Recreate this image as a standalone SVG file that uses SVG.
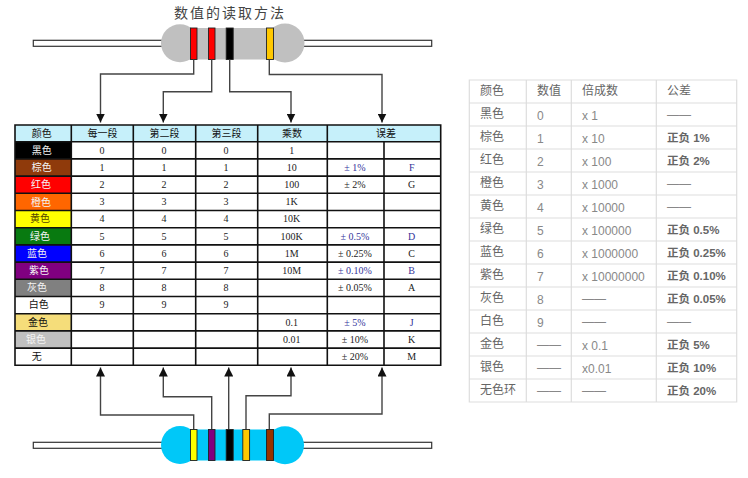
<svg xmlns="http://www.w3.org/2000/svg" width="748" height="478" viewBox="0 0 748 478">
<style>
text{font-family:"Noto Sans CJK SC","Liberation Sans",sans-serif}
.title{font-size:14px;letter-spacing:2px;fill:#444;text-anchor:middle}
.lead{fill:#fff;stroke:#333;stroke-width:1.2}
.band{stroke:#222;stroke-width:.9}
.grid{fill:none;stroke:#111;stroke-width:1.6}
.c{font-size:10px;text-anchor:middle;fill:#111}
.w{fill:#f4f4f4}
.n{font-family:"Liberation Serif",serif;font-size:10px;text-anchor:middle;fill:#222}
.b{fill:#33339a}
.conn{fill:none;stroke:#444;stroke-width:1.4}
.rg{fill:none;stroke:#ddd;stroke-width:1.2}
.r{font-size:12px;fill:#666}
.v{font-family:"Liberation Sans",sans-serif;font-size:12px;fill:#888}
.t{font-family:"Liberation Sans","Noto Sans CJK SC",sans-serif;font-size:11.5px;font-weight:700;fill:#666}
.d{font-family:"Liberation Sans",sans-serif;font-size:12px;fill:#888}
</style>
<defs>
<marker id="ah" markerUnits="userSpaceOnUse" markerWidth="10" markerHeight="9" refX="9" refY="4.5" orient="auto"><path d="M0 0L9 4.5L0 9Z" fill="#111"/></marker>
</defs>
<rect width="748" height="478" fill="#fff"/>
<text class="title" x="230" y="18">数值的读取方法</text>

<g id="resistor-top">
<rect class="lead" x="33.3" y="40.3" width="398.4" height="6"/>
<circle cx="180" cy="43.3" r="19" fill="#c0c0c0"/>
<circle cx="285" cy="43" r="19.5" fill="#c0c0c0"/>
<rect x="180" y="28" width="105" height="31.5" fill="#c0c0c0"/>
<rect class="band" x="190.5" y="28" width="6.5" height="31.5" fill="#f00"/>
<rect class="band" x="208.5" y="28" width="6.5" height="31.5" fill="#f00"/>
<rect class="band" x="226.2" y="28" width="7" height="31.5" fill="#000"/>
<rect class="band" x="266.5" y="28" width="7" height="31.5" fill="#ffc800"/>
</g>

<g id="connectors">
<path class="conn" marker-end="url(#ah)" d="M193.7 59.5V74H100.5V122.5"/>
<path class="conn" marker-end="url(#ah)" d="M211.7 59.5V91.7H163.3V122.5"/>
<path class="conn" marker-end="url(#ah)" d="M229.7 59.5V91.7H291V122.5"/>
<path class="conn" marker-end="url(#ah)" d="M269.3 59.5V74.5H382V122.5"/>
<path class="conn" marker-end="url(#ah)" d="M193.7 429.5V415H100.5V367.5"/>
<path class="conn" marker-end="url(#ah)" d="M211.7 429.5V396.7H163.3V367.5"/>
<path class="conn" marker-end="url(#ah)" d="M228.7 429.5V367.5"/>
<path class="conn" marker-end="url(#ah)" d="M246 429.5V395.7H291V367.5"/>
<path class="conn" marker-end="url(#ah)" d="M269.3 429.5V414H382V367.5"/>
</g>

<g id="resistor-bottom">
<rect class="lead" x="33.3" y="442.3" width="398.4" height="6"/>
<circle cx="180" cy="445" r="19" fill="#00c8f8"/>
<circle cx="285" cy="445.3" r="19" fill="#00c8f8"/>
<rect x="180" y="429.5" width="105" height="31" fill="#00c8f8"/>
<rect class="band" x="190.5" y="429.5" width="6.5" height="31" fill="#ff0"/>
<rect class="band" x="208.5" y="429.5" width="6.5" height="31" fill="#800080"/>
<rect class="band" x="226.2" y="429.5" width="7" height="31" fill="#000"/>
<rect class="band" x="242.8" y="429.5" width="6.8" height="31" fill="#ffc800"/>
<rect class="band" x="266.5" y="429.5" width="7" height="31" fill="#993300"/>
</g>

<g id="code-table">
<rect x="15" y="125" width="425.7" height="240.3" fill="#fff"/>
<rect x="15" y="125" width="425.7" height="16.7" fill="#c6f0fa"/>
<rect x="15" y="141.7" width="56.3" height="17.2" fill="#000"/>
<rect x="15" y="158.9" width="56.3" height="17.2" fill="#8f3a0b"/>
<rect x="15" y="176.1" width="56.3" height="17.2" fill="#f00"/>
<rect x="15" y="193.3" width="56.3" height="17.2" fill="#f60"/>
<rect x="15" y="210.5" width="56.3" height="17.2" fill="#ff0"/>
<rect x="15" y="227.7" width="56.3" height="17.2" fill="#087a10"/>
<rect x="15" y="244.9" width="56.3" height="17.2" fill="#00f"/>
<rect x="15" y="262.1" width="56.3" height="17.2" fill="#800080"/>
<rect x="15" y="279.3" width="56.3" height="17.2" fill="#808080"/>
<rect x="15" y="313.7" width="56.3" height="17.2" fill="#f5dd7a"/>
<rect x="15" y="330.9" width="56.3" height="17.2" fill="#c0c0c0"/>
<path class="grid" d="M15 125H440.7V365.3H15ZM15 141.7H440.7M15 158.9H440.7M15 176.1H440.7M15 193.3H440.7M15 210.5H440.7M15 227.7H440.7M15 244.9H440.7M15 262.1H440.7M15 279.3H440.7M15 296.5H440.7M15 313.7H440.7M15 330.9H440.7M15 348.1H440.7M71.3 125V365.3M133.3 125V365.3M195.7 125V365.3M257.7 125V365.3M327.3 125V365.3M384 141.7V365.3"/>
<text class="c" x="41.7" y="137">颜色</text><text class="c" x="102.5" y="137">每一段</text><text class="c" x="164.5" y="137">第二段</text><text class="c" x="226.5" y="137">第三段</text><text class="c" x="292" y="137">乘数</text><text class="c" x="386" y="137">误差</text>
<text class="c w" x="41.7" y="154">黑色</text><text class="c w" x="41.7" y="171">棕色</text><text class="c w" x="41" y="188">红色</text><text class="c w" x="41" y="206">橙色</text><text class="c" x="40" y="222" style="fill:#554400">黄色</text><text class="c w" x="40" y="240">绿色</text><text class="c w" x="37" y="257">蓝色</text><text class="c w" x="39" y="274">紫色</text><text class="c w" x="37" y="291">灰色</text><text class="c" x="38.7" y="308">白色</text><text class="c" x="38" y="326">金色</text><text class="c w" x="36" y="343">银色</text><text class="c" x="36.7" y="360">无</text>
<text class="n" x="102" y="153.5">0</text><text class="n" x="164" y="153.5">0</text><text class="n" x="226" y="153.5">0</text><text class="n" x="291.7" y="153.5">1</text>
<text class="n" x="102" y="170.7">1</text><text class="n" x="164" y="170.7">1</text><text class="n" x="226" y="170.7">1</text><text class="n" x="291.7" y="170.7">10</text><text class="n b" x="355" y="170.7">± 1%</text><text class="n b" x="411.7" y="170.7">F</text>
<text class="n" x="102" y="187.9">2</text><text class="n" x="164" y="187.9">2</text><text class="n" x="226" y="187.9">2</text><text class="n" x="291.7" y="187.9">100</text><text class="n" x="355" y="187.9">± 2%</text><text class="n" x="411.7" y="187.9">G</text>
<text class="n" x="102" y="205.1">3</text><text class="n" x="164" y="205.1">3</text><text class="n" x="226" y="205.1">3</text><text class="n" x="291.7" y="205.1">1K</text>
<text class="n" x="102" y="222.3">4</text><text class="n" x="164" y="222.3">4</text><text class="n" x="226" y="222.3">4</text><text class="n" x="291.7" y="222.3">10K</text>
<text class="n" x="102" y="239.5">5</text><text class="n" x="164" y="239.5">5</text><text class="n" x="226" y="239.5">5</text><text class="n" x="291.7" y="239.5">100K</text><text class="n b" x="355" y="239.5">± 0.5%</text><text class="n b" x="411.7" y="239.5">D</text>
<text class="n" x="102" y="256.7">6</text><text class="n" x="164" y="256.7">6</text><text class="n" x="226" y="256.7">6</text><text class="n" x="291.7" y="256.7">1M</text><text class="n" x="355" y="256.7">± 0.25%</text><text class="n" x="411.7" y="256.7">C</text>
<text class="n" x="102" y="273.9">7</text><text class="n" x="164" y="273.9">7</text><text class="n" x="226" y="273.9">7</text><text class="n" x="291.7" y="273.9">10M</text><text class="n b" x="355" y="273.9">± 0.10%</text><text class="n b" x="411.7" y="273.9">B</text>
<text class="n" x="102" y="291.1">8</text><text class="n" x="164" y="291.1">8</text><text class="n" x="226" y="291.1">8</text><text class="n" x="355" y="291.1">± 0.05%</text><text class="n" x="411.7" y="291.1">A</text>
<text class="n" x="102" y="308.3">9</text><text class="n" x="164" y="308.3">9</text><text class="n" x="226" y="308.3">9</text>
<text class="n" x="291.7" y="325.5">0.1</text><text class="n b" x="355" y="325.5">± 5%</text><text class="n b" x="411.7" y="325.5">J</text>
<text class="n" x="291.7" y="342.7">0.01</text><text class="n" x="355" y="342.7">± 10%</text><text class="n" x="411.7" y="342.7">K</text>
<text class="n" x="355" y="359.9">± 20%</text><text class="n" x="411.7" y="359.9">M</text>
</g>

<g id="summary-table">
<path class="rg" d="M469.3 80H736.7V402H469.3ZM469.3 103H736.7M469.3 126H736.7M469.3 149H736.7M469.3 172H736.7M469.3 195H736.7M469.3 218H736.7M469.3 241H736.7M469.3 264H736.7M469.3 287H736.7M469.3 310H736.7M469.3 333H736.7M469.3 356H736.7M469.3 379H736.7M526.3 80V402M571.3 80V402M656.3 80V402"/>
<text class="r" x="480" y="95">颜色</text><text class="r" x="537" y="95">数值</text><text class="r" x="582" y="95">倍成数</text><text class="r" x="667" y="95">公差</text>
<text class="r" x="480" y="118">黑色</text><text class="v" x="537" y="120">0</text><text class="v" x="582" y="120">x 1</text><text class="d" x="667" y="119">——</text>
<text class="r" x="480" y="141">棕色</text><text class="v" x="537" y="143">1</text><text class="v" x="582" y="143">x 10</text><text class="t" x="667" y="142">正负 1%</text>
<text class="r" x="480" y="164">红色</text><text class="v" x="537" y="166">2</text><text class="v" x="582" y="166">x 100</text><text class="t" x="667" y="165">正负 2%</text>
<text class="r" x="480" y="187">橙色</text><text class="v" x="537" y="189">3</text><text class="v" x="582" y="189">x 1000</text><text class="d" x="667" y="188">——</text>
<text class="r" x="480" y="210">黄色</text><text class="v" x="537" y="212">4</text><text class="v" x="582" y="212">x 10000</text><text class="d" x="667" y="211">——</text>
<text class="r" x="480" y="233">绿色</text><text class="v" x="537" y="235">5</text><text class="v" x="582" y="235">x 100000</text><text class="t" x="667" y="234">正负 0.5%</text>
<text class="r" x="480" y="256">蓝色</text><text class="v" x="537" y="258">6</text><text class="v" x="582" y="258">x 1000000</text><text class="t" x="667" y="257">正负 0.25%</text>
<text class="r" x="480" y="279">紫色</text><text class="v" x="537" y="281">7</text><text class="v" x="582" y="281">x 10000000</text><text class="t" x="667" y="280">正负 0.10%</text>
<text class="r" x="480" y="302">灰色</text><text class="v" x="537" y="304">8</text><text class="d" x="582" y="303">——</text><text class="t" x="667" y="303">正负 0.05%</text>
<text class="r" x="480" y="325">白色</text><text class="v" x="537" y="327">9</text><text class="d" x="582" y="326">——</text><text class="d" x="667" y="326">——</text>
<text class="r" x="480" y="348">金色</text><text class="d" x="537" y="349">——</text><text class="v" x="582" y="350">x 0.1</text><text class="t" x="667" y="349">正负 5%</text>
<text class="r" x="480" y="371">银色</text><text class="d" x="537" y="372">——</text><text class="v" x="582" y="373">x0.01</text><text class="t" x="667" y="372">正负 10%</text>
<text class="r" x="480" y="394">无色环</text><text class="d" x="537" y="395">——</text><text class="d" x="582" y="395">——</text><text class="t" x="667" y="395">正负 20%</text>
</g>
</svg>
